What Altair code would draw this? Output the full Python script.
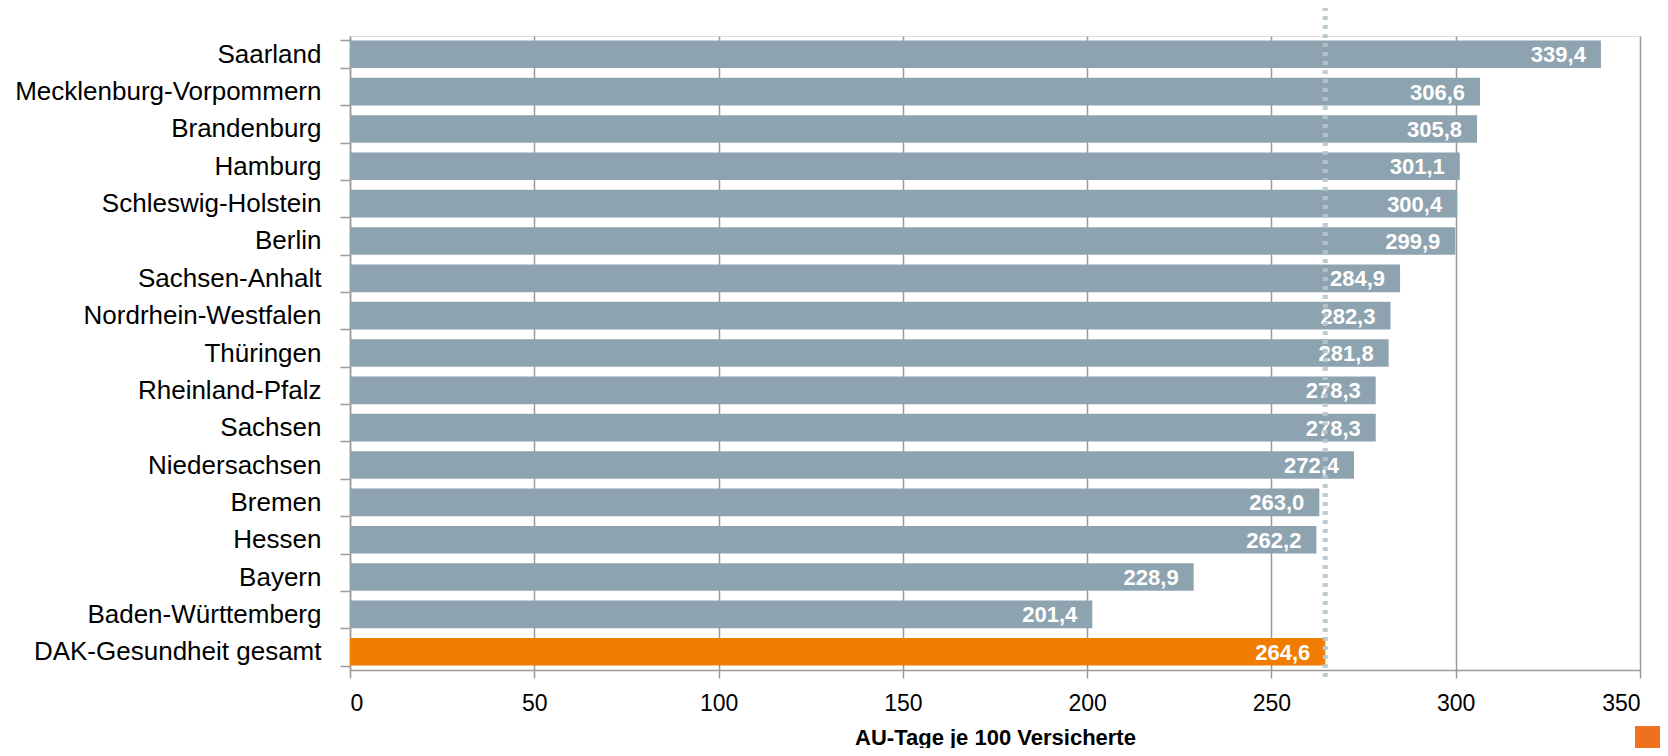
import altair as alt
import pandas as pd

laender = ["Saarland", "Mecklenburg-Vorpommern", "Brandenburg", "Hamburg",
           "Schleswig-Holstein", "Berlin", "Sachsen-Anhalt", "Nordrhein-Westfalen",
           "Thüringen", "Rheinland-Pfalz", "Sachsen", "Niedersachsen", "Bremen",
           "Hessen", "Bayern", "Baden-Württemberg", "DAK-Gesundheit gesamt"]
werte = [339.4, 306.6, 305.8, 301.1, 300.4, 299.9, 284.9, 282.3, 281.8,
         278.3, 278.3, 272.4, 263.0, 262.2, 228.9, 201.4, 264.6]
gruppe = ["Land"] * 16 + ["Gesamt"]
gesamt = 264.6
x_ticks = [0, 50, 100, 150, 200, 250, 300, 350]

df = pd.DataFrame({"land": laender, "wert": werte, "gruppe": gruppe})
df["label"] = [f"{v:.1f}".replace(".", ",") for v in werte]

FONT = "Liberation Sans, Arial, sans-serif"
GRID = "#9a9a9a"

y_enc = alt.Y("land:N", sort=laender, title=None,
              scale=alt.Scale(paddingInner=0.26, paddingOuter=0.12),
              axis=alt.Axis(labelFont=FONT, labelFontSize=26, labelColor="#000000",
                            labelPadding=19, tickSize=10, tickColor=GRID, tickWidth=1.5,
                            domainColor=GRID, domainWidth=1.5, tickBand="extent",
                            labelLimit=400))
x_scale = alt.Scale(domain=[0, 350], nice=False)

bars = alt.Chart(df).mark_bar().encode(
    x=alt.X("wert:Q", scale=x_scale, title="AU-Tage je 100 Versicherte",
            axis=alt.Axis(values=x_ticks, grid=True, gridColor=GRID, gridWidth=1.5,
                          domainColor=GRID, domainWidth=1.5, tickColor=GRID,
                          tickWidth=1.5, tickSize=8, labelFont=FONT,
                          labelFontSize=23, labelColor="#000000", labelPadding=14,
                          titleFont=FONT, titleFontSize=22, titleFontWeight="bold",
                          titleColor="#000000", titlePadding=12)),
    y=y_enc,
    color=alt.Color("gruppe:N", legend=None,
                    scale=alt.Scale(domain=["Land", "Gesamt"],
                                    range=["#8ea3b0", "#f07d00"])),
)

text = alt.Chart(df).mark_text(align="right", baseline="middle", dx=-15, dy=1,
                               font=FONT, fontSize=22, fontWeight="bold",
                               color="#ffffff").encode(
    x=alt.X("wert:Q", scale=x_scale),
    y=alt.Y("land:N", sort=laender),
    text="label:N",
)

rule = alt.Chart(pd.DataFrame({"g": [gesamt]})).mark_rule(
    color="#b5c5cf", strokeWidth=5, strokeDash=[4, 5], opacity=0.9).encode(
    x=alt.X("g:Q", scale=x_scale),
    y=alt.value(-29),
    y2=alt.value(646),
)

deco = alt.Chart(pd.DataFrame({"g": [1]})).mark_rect(color="#f07020").encode(
    x=alt.value(1285), x2=alt.value(1340), y=alt.value(690), y2=alt.value(730),
)

chart = alt.layer(bars, text, rule, deco).properties(
    width=1290, height=634,
    autosize=alt.AutoSizeParams(type="none"),
    padding={"left": 342, "top": 28, "right": 20, "bottom": 78},
).configure_view(stroke=None).configure(background="#ffffff")

chart.save("out.html", embed_options={"renderer": "svg", "actions": False})
